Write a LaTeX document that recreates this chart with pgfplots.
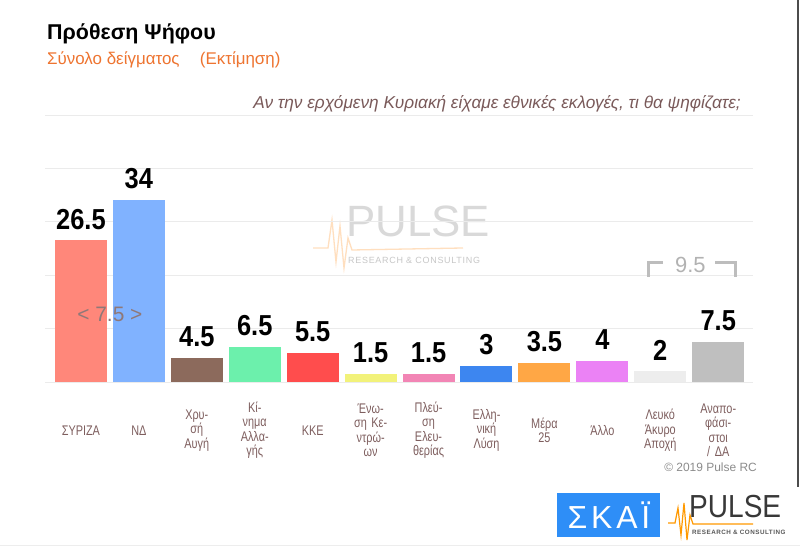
\documentclass[border=0pt]{standalone}
\usepackage{pgfplots}
\pgfplotsset{compat=1.18}
\usepackage{fontspec}
\setmainfont{Liberation Sans}
\newfontfamily\condfont{Liberation Sans}[FakeStretch=0.78]
\newfontfamily\numfont{Liberation Sans}[FakeStretch=0.88]
\newfontfamily\widefont{Liberation Sans}[LetterSpace=8]
\newfontfamily\skaifont{Liberation Sans}[LetterSpace=12]
\definecolor{cA}{HTML}{FF877A}
\definecolor{cB}{HTML}{80B2FF}
\definecolor{cC}{HTML}{8C6A5C}
\definecolor{cD}{HTML}{6CF0AC}
\definecolor{cE}{HTML}{FF4D4D}
\definecolor{cF}{HTML}{F2F27A}
\definecolor{cG}{HTML}{F285B5}
\definecolor{cH}{HTML}{3D86F0}
\definecolor{cI}{HTML}{FFA745}
\definecolor{cJ}{HTML}{EB82F5}
\definecolor{cK}{HTML}{EDEDED}
\definecolor{cL}{HTML}{BFBFBF}
\definecolor{gridc}{HTML}{EBEBEB}
\definecolor{labc}{HTML}{7E5E5E}
\definecolor{qc}{HTML}{7A5A5A}
\definecolor{orng}{HTML}{EE7430}
\definecolor{brk}{HTML}{BDBDBD}
\definecolor{diffc}{HTML}{8F7878}
\definecolor{skai}{HTML}{2E8EF7}
\begin{document}
\begin{tikzpicture}
\fill[white] (0,0) rectangle (800bp,550bp);
\useasboundingbox (0,0) rectangle (800bp,550bp);
% watermark
\begin{scope}[x=1bp,y=-1bp,shift={(0,550bp)}]
\draw[color=orange!25, line width=1.3bp] (313,248) -- (328,248) -- (332,220) -- (336,262) -- (340,226) -- (344,268) -- (348,238) -- (352,250) -- (463,248);
\node[anchor=base west, inner sep=0pt, text=black!15, font=\fontsize{44}{44}\selectfont] at (346,237) {PULSE};
\node[anchor=base west, inner sep=0pt, text=black!22, font=\widefont\fontsize{9}{9}\selectfont] at (348,264) {RESEARCH \& CONSULTING};
\end{scope}
\begin{axis}[
  at={(45bp,168bp)}, anchor=south west,
  scale only axis, width=708bp, height=267bp,
  xmin=-0.62, xmax=11.6, ymin=0, ymax=50,
  enlargelimits=false,
  axis line style={draw=none},
  tick style={draw=none},
  ytick={0,10,20,30,40,50}, yticklabels={},
  ymajorgrids, grid style={color=gridc, line width=0.9bp},
  xtick={0,1,2,3,4,5,6,7,8,9,10,11},
  xticklabels={ΣΥΡΙΖΑ, ΝΔ, {Χρυ-\\σή\\Αυγή}, {Κί-\\νημα\\Αλλα-\\γής}, ΚΚΕ, {Ένω-\\ση Κε-\\ντρώ-\\ων}, {Πλεύ-\\ση\\Ελευ-\\θερίας}, {Ελλη-\\νική\\Λύση}, {Μέρα\\25}, Άλλο, {Λευκό\\Άκυρο\\Αποχή}, {Αναπο-\\φάσι-\\στοι\\/ ΔΑ}},
  xticklabel style={anchor=center, yshift=-44bp, align=center, text width=60bp, text=labc, font=\condfont\fontsize{14}{14.5}\selectfont},
  ybar, bar width=52bp,
  nodes near coords,
  /pgf/number format/assume math mode=true,
  every node near coord/.append style={anchor=south, inner sep=0pt, yshift=11bp, text=black, font=\numfont\bfseries\fontsize{29}{29}\selectfont},
  clip=false,
]
\addplot[fill=cA, draw=none, bar shift=0pt] coordinates {(0,26.5)};
\addplot[fill=cB, draw=none, bar shift=0pt] coordinates {(1,34)};
\addplot[fill=cC, draw=none, bar shift=0pt] coordinates {(2,4.5)};
\addplot[fill=cD, draw=none, bar shift=0pt] coordinates {(3,6.5)};
\addplot[fill=cE, draw=none, bar shift=0pt] coordinates {(4,5.5)};
\addplot[fill=cF, draw=none, bar shift=0pt] coordinates {(5,1.5)};
\addplot[fill=cG, draw=none, bar shift=0pt] coordinates {(6,1.5)};
\addplot[fill=cH, draw=none, bar shift=0pt] coordinates {(7,3)};
\addplot[fill=cI, draw=none, bar shift=0pt] coordinates {(8,3.5)};
\addplot[fill=cJ, draw=none, bar shift=0pt] coordinates {(9,4)};
\addplot[fill=cK, draw=none, bar shift=0pt] coordinates {(10,2)};
\addplot[fill=cL, draw=none, bar shift=0pt] coordinates {(11,7.5)};
\node[text=diffc, font=\fontsize{21}{21}\selectfont, inner sep=0pt] at (axis cs:0.5,12.7) {< 7.5 >};
\draw[brk, line width=3bp] (axis cs:9.79,19.7) -- (axis cs:9.79,22.3) -- (axis cs:10.05,22.3);
\draw[brk, line width=3bp] (axis cs:10.95,22.3) -- (axis cs:11.30,22.3) -- (axis cs:11.30,19.7);
\node[text=black!30, font=\fontsize{22}{22}\selectfont, inner sep=0pt] at (axis cs:10.52,21.9) {9.5};
\end{axis}
\begin{scope}[x=1bp,y=-1bp,shift={(0,550bp)}]
% titles
\node[anchor=base west, inner sep=0pt, font=\bfseries\fontsize{21.5}{21.5}\selectfont] at (47,40) {Πρόθεση Ψήφου};
\node[anchor=base west, inner sep=0pt, text=orng, font=\fontsize{17}{17}\selectfont] at (47,65) {Σύνολο δείγματος\hspace{1.2em}(Εκτίμηση)};
\node[anchor=base east, inner sep=0pt, text=qc, font=\itshape\fontsize{17.3}{17.3}\selectfont] at (741,109) {Αν την ερχόμενη Κυριακή είχαμε εθνικές εκλογές, τι θα ψηφίζατε;};
\node[anchor=base east, inner sep=0pt, text=black!45, font=\fontsize{12}{12}\selectfont] at (757,472) {© 2019 Pulse RC};
% borders
\draw[black!70, line width=1.5bp] (798,0) -- (798,487);
\draw[black!7, line width=1bp] (0,546) -- (800,546);
% SKAI logo
\fill[skai] (557,493) rectangle (660,537);
\node[text=white, inner sep=0pt, font=\skaifont\fontsize{32}{32}\selectfont] at (609,515) {ΣΚΑΪ};
% PULSE logo
\draw[orange!80!yellow, line width=1.2bp] (668,523) -- (675,523) -- (678,508) -- (681,535) -- (684,503) -- (687,540) -- (690,515) -- (693,524) -- (753,524);
\node[anchor=base west, inner sep=0pt, text=black!78, font=\numfont\fontsize{32}{32}\selectfont] at (689,518) {PULSE};
\node[anchor=base west, inner sep=0pt, text=black!65, font=\widefont\bfseries\fontsize{6.3}{6.3}\selectfont] at (692,535) {RESEARCH \& CONSULTING};
\end{scope}
\end{tikzpicture}
\end{document}
